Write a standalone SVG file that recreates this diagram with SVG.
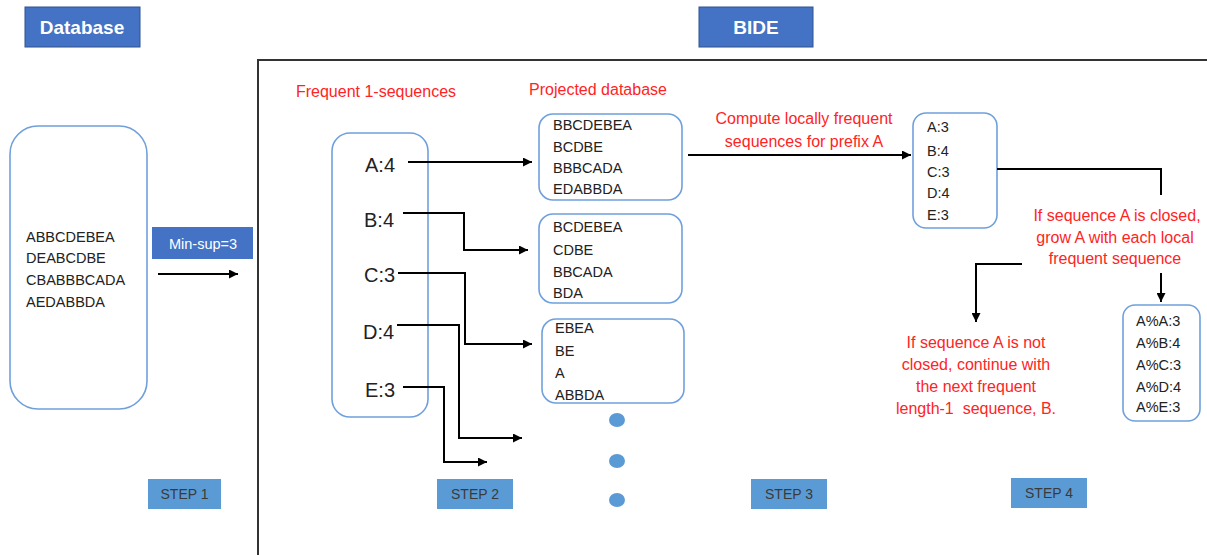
<svg xmlns="http://www.w3.org/2000/svg" width="1207" height="555" viewBox="0 0 1207 555">
<style>
.hdr{fill:#4472C4;stroke:#2F528F;stroke-width:1}
.hdrt{font-family:"Liberation Sans",Arial,sans-serif;font-weight:bold;font-size:19px;fill:#fff;text-anchor:middle}
.box{fill:#fff;stroke:#6FA0DC;stroke-width:1.6}
.t{font-family:"Liberation Sans",Arial,sans-serif;font-size:14.5px;fill:#222}
.big{font-family:"Liberation Sans",Arial,sans-serif;font-size:20px;fill:#222}
.red{font-family:"Liberation Sans",Arial,sans-serif;font-size:16px;fill:#FF2424;text-anchor:middle}
.step{fill:#5B9BD5}
.stept{font-family:"Liberation Sans Narrow","Liberation Sans",Arial,sans-serif;font-size:14px;fill:#3A3A3A;text-anchor:middle}
.ln{fill:none;stroke:#000;stroke-width:2}
.dot{fill:#5B9BD5}
</style>
<defs>
<marker id="ah" viewBox="0 0 10 10" refX="10" refY="5" markerWidth="4.5" markerHeight="4.5" orient="auto" markerUnits="strokeWidth">
<path d="M0,0 L10,5 L0,10 z" fill="#000"/>
</marker>
</defs>
<rect width="1207" height="555" fill="#fff"/>

<g id="frame">
<path d="M258,555 L258,60 L1207,60" fill="none" stroke="#333" stroke-width="2"/>
</g>

<g id="database-header"><rect class="hdr" x="25" y="7" width="115" height="40"/><text class="hdrt" x="82" y="34">Database</text></g>
<g id="bide-header"><rect class="hdr" x="699" y="7" width="114" height="40"/><text class="hdrt" x="756" y="34">BIDE</text></g>

<g id="db">
<rect class="box" x="10" y="126" width="137" height="283" rx="28"/>
<text class="t" x="26" y="242">ABBCDEBEA</text>
<text class="t" x="26" y="263">DEABCDBE</text>
<text class="t" x="26" y="285">CBABBBCADA</text>
<text class="t" x="26" y="307">AEDABBDA</text>
</g>

<g id="minsup"><rect x="152" y="227" width="101" height="32" fill="#4472C4"/><text x="203" y="249" font-family="Liberation Sans,Arial,sans-serif" font-size="14.5" fill="#fff" text-anchor="middle">Min-sup=3</text></g>

<g id="labels">
<text class="red" x="376" y="97">Frequent 1-sequences</text>
<text class="red" x="598" y="95">Projected database</text>
<text class="red" x="804" y="124">Compute locally frequent</text>
<text class="red" x="804" y="147">sequences for prefix A</text>
<text class="red" x="1117" y="221">If sequence A is closed,</text>
<text class="red" x="1115" y="243">grow A with each local</text>
<text class="red" x="1115" y="264">frequent sequence</text>
<text class="red" x="976" y="348">If sequence A is not</text>
<text class="red" x="976" y="370">closed, continue with</text>
<text class="red" x="976" y="392">the next frequent</text>
<text class="red" x="976" y="414" xml:space="preserve">length-1  sequence, B.</text>
</g>

<g id="freq1">
<rect class="box" x="332" y="133" width="96" height="284" rx="18"/>
<text class="big" x="365" y="172">A:4</text>
<text class="big" x="364" y="227">B:4</text>
<text class="big" x="364" y="282">C:3</text>
<text class="big" x="363" y="339">D:4</text>
<text class="big" x="365" y="397">E:3</text>
</g>

<g id="projA">
<rect class="box" x="539" y="114" width="143" height="86" rx="14"/>
<text class="t" x="553" y="130">BBCDEBEA</text>
<text class="t" x="553" y="152">BCDBE</text>
<text class="t" x="553" y="173">BBBCADA</text>
<text class="t" x="553" y="194">EDABBDA</text>
</g>
<g id="projB">
<rect class="box" x="539" y="214" width="143" height="89" rx="14"/>
<text class="t" x="553" y="232">BCDEBEA</text>
<text class="t" x="553" y="255">CDBE</text>
<text class="t" x="553" y="277">BBCADA</text>
<text class="t" x="553" y="298">BDA</text>
</g>
<g id="projC">
<rect class="box" x="542" y="319" width="142" height="84" rx="14"/>
<text class="t" x="555" y="333">EBEA</text>
<text class="t" x="555" y="356">BE</text>
<text class="t" x="555" y="378">A</text>
<text class="t" x="555" y="400">ABBDA</text>
</g>
<g id="dots">
<ellipse class="dot" cx="617" cy="420" rx="8" ry="7"/>
<ellipse class="dot" cx="617" cy="461" rx="8" ry="7"/>
<ellipse class="dot" cx="617" cy="500" rx="8" ry="7"/>
</g>

<g id="localfreq">
<rect class="box" x="913" y="113" width="84" height="115" rx="13"/>
<text class="t" x="927" y="132" font-size="15">A:3</text>
<text class="t" x="927" y="156" font-size="15">B:4</text>
<text class="t" x="927" y="177" font-size="15">C:3</text>
<text class="t" x="927" y="198" font-size="15">D:4</text>
<text class="t" x="927" y="220" font-size="15">E:3</text>
</g>

<g id="grown">
<rect class="box" x="1123" y="305" width="77" height="116" rx="12"/>
<text class="t" x="1136" y="326" font-size="13.5">A%A:3</text>
<text class="t" x="1136" y="348" font-size="13.5">A%B:4</text>
<text class="t" x="1136" y="370" font-size="13.5">A%C:3</text>
<text class="t" x="1136" y="392" font-size="13.5">A%D:4</text>
<text class="t" x="1136" y="412" font-size="13.5">A%E:3</text>
</g>

<g id="steps">
<rect class="step" x="148" y="479" width="73" height="30"/><text class="stept" x="184.5" y="499">STEP 1</text>
<rect class="step" x="437" y="479" width="76" height="30"/><text class="stept" x="475" y="499">STEP 2</text>
<rect class="step" x="751" y="479" width="76" height="30"/><text class="stept" x="789" y="499">STEP 3</text>
<rect class="step" x="1011" y="478" width="76" height="30"/><text class="stept" x="1049" y="498">STEP 4</text>
</g>

<g id="connectors">
<path class="ln" d="M158,274 L238,274" marker-end="url(#ah)"/>
<path class="ln" d="M408,162 L532,162" marker-end="url(#ah)"/>
<path class="ln" d="M403,213 L464,213 L464,250 L528,250" marker-end="url(#ah)"/>
<path class="ln" d="M398,273 L465,273 L465,344 L532,344" marker-end="url(#ah)"/>
<path class="ln" d="M397,325 L459,325 L459,438 L522,438" marker-end="url(#ah)"/>
<path class="ln" d="M403,387 L444,387 L444,462 L487,462" marker-end="url(#ah)"/>
<path class="ln" d="M688,155 L911,155" marker-end="url(#ah)"/>
<path class="ln" d="M997,169 L1161,169 L1161,195"/>
<path class="ln" d="M1161,273 L1161,302" marker-end="url(#ah)"/>
<path class="ln" d="M1022,264 L976,264 L976,322" marker-end="url(#ah)"/>
</g>
</svg>
